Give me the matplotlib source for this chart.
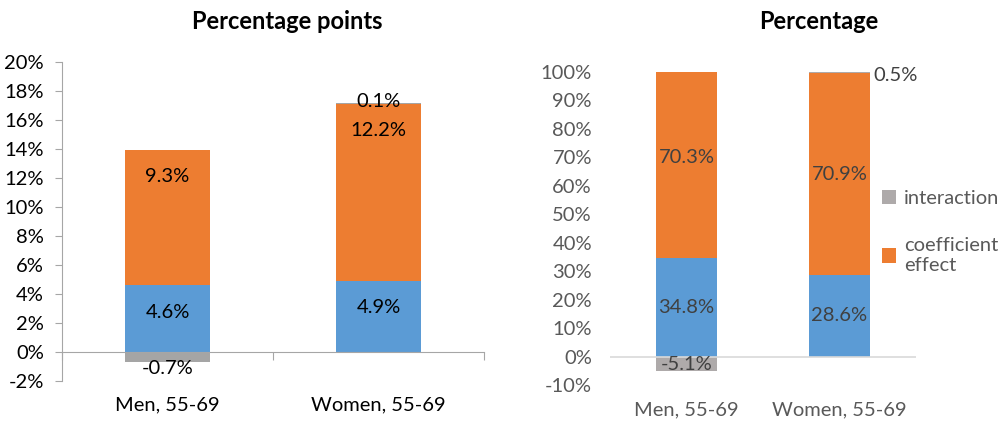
import numpy as np
import matplotlib
matplotlib.use('Agg')
from matplotlib import pyplot as plt
from matplotlib.ticker import PercentFormatter

plt.rcParams['font.family'] = ['Lato', 'DejaVu Sans']
plt.rcParams['axes.unicode_minus'] = False

categories = ['Men, 55-69', 'Women, 55-69']

# percentage points
pp_blue = np.array([4.6, 4.9])
pp_coef = np.array([9.3, 12.2])
pp_inter = np.array([-0.7, 0.1])

# percentage of total
pc_blue = np.array([34.8, 28.6])
pc_coef = np.array([70.3, 70.9])
pc_inter = np.array([-5.1, 0.5])

BLUE = '#5b9bd5'
ORANGE = '#ed7d31'
GREY_L = '#a5a5a5'
GREY_R = '#aeaaaa'
FS = 14.5

fig = plt.figure(figsize=(10.02, 4.22), dpi=100)
x = np.arange(len(categories))
w = 0.4

# ---- left panel
ax1 = fig.add_axes([0.0619, 0.0972, 0.4212, 0.756])
ax1.bar(x, pp_blue, w, color=BLUE)
ax1.bar(x, pp_coef, w, bottom=pp_blue, color=ORANGE)
inter_bottom = np.where(pp_inter >= 0, pp_blue + pp_coef, 0)
ax1.bar(x, pp_inter, w, bottom=inter_bottom, color=GREY_L)
ax1.set_xlim(-0.5, 1.5)
ax1.set_ylim(-2, 20)
ax1.set_yticks(np.arange(-2, 21, 2))
ax1.yaxis.set_major_formatter(PercentFormatter(decimals=0))
ax1.set_xticks([-0.5, 0.5, 1.5])
ax1.set_xticklabels([])
for s in ['top', 'right']:
    ax1.spines[s].set_visible(False)
ax1.spines['bottom'].set_position(('data', 0))
ax1.spines['left'].set_color('#a6a6a6')
ax1.spines['bottom'].set_color('#a6a6a6')
ax1.tick_params(axis='both', colors='#a6a6a6', length=5, labelsize=FS, labelcolor='black')
ax1.tick_params(axis='y', pad=8)
ax1.tick_params(axis='x', length=6)
for i, c in enumerate(categories):
    ax1.text(i, -0.075, c, transform=ax1.get_xaxis_transform(), ha='center', va='center', fontsize=FS)

for i in x:
    ax1.annotate(f'{pp_blue[i]:.1f}%', (i, pp_blue[i]), xytext=(0, -27), textcoords='offset pixels',
                 ha='center', va='center', fontsize=FS)
    top = pp_blue[i] + pp_coef[i]
    ax1.annotate(f'{pp_coef[i]:.1f}%', (i, top), xytext=(0, -26), textcoords='offset pixels',
                 ha='center', va='center', fontsize=FS)
    end = inter_bottom[i] + pp_inter[i]
    off = 1 if pp_inter[i] >= 0 else -6
    ax1.annotate(f'{pp_inter[i]:.1f}%', (i, end), xytext=(0, off), textcoords='offset pixels',
                 ha='center', va='center', fontsize=FS)

# ---- right panel
ax2 = fig.add_axes([0.6088, 0.0877, 0.3054, 0.7417])
ax2.bar(x, pc_blue, w, color=BLUE)
b_coef = ax2.bar(x, pc_coef, w, bottom=pc_blue, color=ORANGE)
inter_bottom2 = np.where(pc_inter >= 0, pc_blue + pc_coef, 0)
b_inter = ax2.bar(x, pc_inter, w, bottom=inter_bottom2, color=GREY_R)
ax2.set_xlim(-0.5, 1.5)
ax2.set_ylim(-10, 100)
ax2.set_yticks(np.arange(-10, 101, 10))
ax2.yaxis.set_major_formatter(PercentFormatter(decimals=0))
ax2.set_xticks(x)
ax2.set_xticklabels(categories)
for s in ['top', 'right', 'left', 'bottom']:
    ax2.spines[s].set_visible(False)
ax2.axhline(0, color='#d9d9d9', lw=1.2)
ax2.tick_params(axis='both', length=0, labelsize=FS, labelcolor='#595959')
ax2.tick_params(axis='y', pad=13)
ax2.tick_params(axis='x', pad=12)

for i in x:
    ax2.text(i, pc_blue[i] / 2, f'{pc_blue[i]:.1f}%', ha='center', va='center', fontsize=FS, color='#404040')
    ax2.text(i, pc_blue[i] + pc_coef[i] / 2, f'{pc_coef[i]:.1f}%', ha='center', va='center',
             fontsize=FS, color='#404040')
    if pc_inter[i] < 0:
        ax2.text(i, pc_inter[i] / 2 - 0.3, f'{pc_inter[i]:.1f}%', ha='center', va='center',
                 fontsize=FS, color='#404040')
    else:
        ax2.annotate(f'{pc_inter[i]:.1f}%', (i + w / 2, inter_bottom2[i] + pc_inter[i]), xytext=(3, -4),
                     textcoords='offset pixels', ha='left', va='center', fontsize=FS, color='#404040')

leg = ax2.legend([b_inter, b_coef], ['interaction', 'coefficient\neffect'], loc='upper left',
                 bbox_to_anchor=(0.862, 0.593), bbox_transform=fig.transFigure, frameon=False,
                 handlelength=0.7, handleheight=0.7, handletextpad=0.4, labelspacing=1.5,
                 fontsize=FS, labelcolor='#595959')

fig.text(0.2864, 0.948, 'Percentage points', ha='center', va='center', fontsize=17, fontweight='bold')
fig.text(0.8174, 0.948, 'Percentage', ha='center', va='center', fontsize=17, fontweight='bold')

fig.savefig('out.png', dpi=100)
